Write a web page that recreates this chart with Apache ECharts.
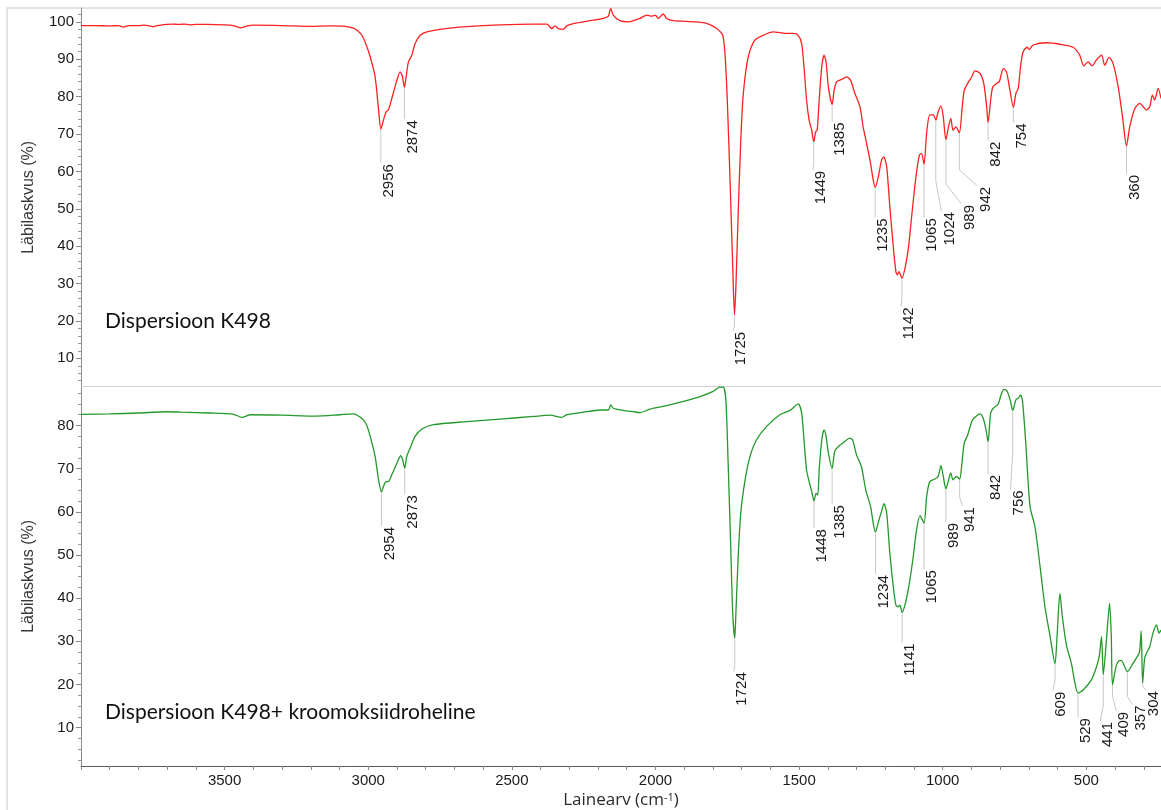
<!DOCTYPE html>
<html>
<head>
<meta charset="utf-8">
<title>FTIR: Dispersioon K498</title>
<script src="https://cdn.jsdelivr.net/npm/echarts@6/dist/echarts.min.js"></script>
<style>
  html, body { margin: 0; padding: 0; background: #ffffff; }
  #chart { width: 1161px; height: 810px; }
</style>
</head>
<body>
<div id="chart"></div>
<script>
// Transmittance spectra: [wavenumber (cm-1), transmittance (%)]
const spectrumK498 = [
  [4000, 99.0], [3950, 99.0], [3900, 98.9], [3870, 99.0], [3852, 98.6], [3835, 99.0],
  [3800, 99.0], [3780, 99.1], [3760, 98.9], [3748, 98.7], [3735, 99.0], [3700, 99.3],
  [3680, 99.4], [3660, 99.3], [3640, 99.4], [3620, 99.2], [3600, 99.3], [3560, 99.3],
  [3500, 99.2], [3470, 99.0], [3442, 98.4], [3420, 98.9], [3400, 99.1], [3300, 99.0],
  [3200, 98.8], [3130, 98.9], [3080, 98.8], [3051, 98.3], [3035, 97.5], [3022, 96.4],
  [3008, 94.0], [2993, 90.6], [2976, 85.3], [2964, 76.4], [2956, 71.3], [2947, 73.7],
  [2938, 75.9], [2930, 76.4], [2918, 79.5], [2900, 84.4], [2889, 86.6], [2882, 85.7],
  [2874, 82.5], [2868, 85.3], [2860, 89.3], [2848, 91.1], [2837, 94.2], [2819, 96.4],
  [2796, 97.3], [2750, 98.0], [2657, 98.7], [2541, 99.2], [2425, 99.4], [2378, 99.4],
  [2361, 98.2], [2350, 98.9], [2338, 98.2], [2321, 98.0], [2309, 98.9], [2274, 99.7],
  [2228, 100.3], [2181, 100.9], [2164, 101.5], [2156, 103.6], [2147, 101.8], [2124, 100.3],
  [2094, 100.0], [2077, 100.3], [2054, 100.9], [2030, 101.8], [2013, 101.5], [2001, 101.8],
  [1990, 100.9], [1973, 102.1], [1961, 100.9], [1938, 100.3], [1868, 100.0], [1822, 99.6],
  [1787, 98.2], [1766, 96.4], [1758, 91.5], [1750, 79.1], [1740, 56.8], [1731, 34.5],
  [1725, 21.6], [1720, 29.1], [1712, 48.8], [1703, 68.4], [1694, 80.9], [1677, 90.6],
  [1654, 95.1], [1625, 96.4], [1590, 97.3], [1567, 97.1], [1543, 96.9], [1520, 96.9],
  [1503, 96.4], [1491, 94.2], [1483, 88.0], [1474, 79.1], [1465, 73.7], [1456, 71.0],
  [1449, 67.9], [1442, 70.6], [1437, 71.0], [1430, 79.1], [1421, 88.0], [1413, 91.1],
  [1406, 89.3], [1398, 82.6], [1385, 77.9], [1378, 81.7], [1369, 84.0], [1352, 84.6],
  [1335, 85.3], [1321, 84.4], [1306, 80.9], [1288, 77.3], [1277, 71.9], [1265, 67.5],
  [1251, 62.1], [1242, 57.7], [1235, 55.7], [1224, 58.6], [1213, 63.0], [1205, 63.9],
  [1195, 61.2], [1184, 50.5], [1172, 39.8], [1163, 33.2], [1158, 32.3], [1152, 33.2],
  [1142, 31.4], [1130, 34.5], [1119, 39.8], [1107, 48.8], [1093, 58.6], [1081, 64.4],
  [1074, 64.8], [1065, 61.9], [1056, 70.2], [1045, 75.1], [1033, 75.1], [1024, 73.7],
  [1016, 75.9], [1006, 77.5], [998, 74.6], [989, 68.4], [981, 71.5], [972, 74.2],
  [964, 71.0], [954, 71.9], [942, 70.3], [933, 76.4], [925, 81.7], [913, 83.5],
  [899, 85.3], [888, 86.9], [870, 86.2], [857, 83.5], [847, 77.3], [842, 73.0],
  [833, 79.1], [826, 82.5], [813, 83.5], [803, 84.0], [789, 87.5], [778, 86.6],
  [766, 81.7], [754, 77.1], [745, 80.9], [737, 82.2], [729, 88.0], [720, 92.0],
  [706, 93.2], [699, 92.6], [685, 93.8], [639, 94.4], [592, 94.0], [546, 93.2],
  [523, 91.1], [509, 88.2], [494, 89.3], [480, 88.2], [465, 89.8], [447, 91.1],
  [436, 88.4], [421, 90.5], [407, 88.9], [389, 82.6], [374, 74.6], [360, 66.8],
  [349, 71.9], [331, 76.8], [314, 78.2], [302, 77.3], [291, 76.4], [279, 77.3],
  [270, 80.4], [262, 79.1], [250, 82.2], [240, 79.5]
];

const spectrumK498Oxide = [
  [4000, 82.6], [3900, 82.7], [3800, 82.9], [3700, 83.2], [3650, 83.1], [3550, 82.9],
  [3469, 82.6], [3440, 81.9], [3410, 82.5], [3300, 82.4], [3180, 82.2], [3100, 82.5],
  [3051, 82.7], [3034, 82.2], [3017, 81.3], [3005, 80.0], [2993, 77.5], [2976, 72.8],
  [2964, 67.4], [2954, 64.6], [2947, 65.9], [2938, 67.0], [2930, 67.0], [2918, 68.6],
  [2900, 71.3], [2887, 73.0], [2880, 72.0], [2873, 70.1], [2866, 72.8], [2854, 74.8],
  [2837, 77.5], [2813, 79.2], [2773, 80.2], [2657, 80.9], [2541, 81.5], [2425, 82.1],
  [2367, 82.4], [2326, 81.9], [2309, 82.5], [2251, 83.1], [2193, 83.6], [2164, 83.6],
  [2156, 84.8], [2147, 84.0], [2112, 83.5], [2077, 83.2], [2054, 83.0], [2019, 83.8],
  [1978, 84.4], [1961, 84.6], [1903, 85.6], [1845, 86.7], [1799, 87.9], [1776, 88.9],
  [1764, 88.9], [1755, 86.0], [1747, 71.3], [1738, 52.0], [1731, 36.5], [1724, 30.7],
  [1720, 36.5], [1712, 49.6], [1703, 59.7], [1688, 67.4], [1671, 72.8], [1648, 76.7],
  [1613, 79.8], [1567, 82.5], [1532, 83.5], [1503, 85.0], [1491, 82.9], [1483, 76.7],
  [1474, 69.7], [1465, 67.0], [1456, 64.7], [1448, 62.5], [1441, 64.3], [1435, 63.9],
  [1430, 69.7], [1421, 76.7], [1413, 79.0], [1406, 77.5], [1398, 73.6], [1385, 70.1],
  [1376, 74.0], [1364, 75.1], [1341, 76.3], [1325, 77.1], [1314, 76.7], [1300, 73.2],
  [1283, 70.5], [1268, 65.1], [1251, 61.2], [1242, 57.4], [1234, 55.3], [1225, 57.4],
  [1213, 60.1], [1204, 61.9], [1195, 59.7], [1184, 50.4], [1172, 42.7], [1163, 38.4],
  [1155, 38.0], [1149, 38.4], [1141, 36.7], [1130, 38.8], [1119, 42.3], [1104, 48.9],
  [1091, 55.8], [1079, 59.1], [1065, 57.4], [1056, 63.5], [1045, 67.0], [1027, 67.6],
  [1016, 68.2], [1006, 70.7], [998, 68.2], [989, 65.3], [981, 67.0], [972, 69.0],
  [964, 67.4], [952, 68.2], [941, 67.6], [933, 71.3], [925, 75.9], [913, 77.8],
  [896, 81.3], [870, 82.7], [857, 81.3], [847, 78.2], [842, 76.2], [833, 82.9],
  [824, 84.0], [807, 85.0], [795, 87.5], [786, 88.4], [775, 87.9], [764, 85.6],
  [756, 83.5], [745, 86.0], [737, 86.3], [729, 87.1], [722, 85.6], [710, 75.1],
  [696, 61.2], [679, 56.6], [661, 47.3], [644, 38.0], [626, 31.1], [609, 24.8],
  [602, 31.1], [592, 41.1], [584, 36.0], [569, 29.0], [552, 24.9], [540, 20.5],
  [529, 18.0], [511, 18.7], [482, 21.1], [465, 24.0], [455, 26.5], [447, 31.1],
  [441, 22.2], [430, 30.3], [419, 38.8], [413, 31.1], [409, 19.9], [396, 24.3],
  [385, 25.5], [378, 25.5], [357, 23.0], [338, 24.8], [326, 26.1], [315, 27.5],
  [309, 32.4], [304, 20.3], [297, 26.1], [291, 27.2], [279, 28.8], [268, 31.9],
  [256, 33.8], [247, 31.9], [240, 32.6]
];

// Annotated band positions (cm-1)
const peaksK498 = [2956, 2874, 1725, 1449, 1385, 1235, 1142, 1065, 1024, 989, 942, 842, 754, 360];
const peaksK498Oxide = [2954, 2873, 1724, 1448, 1385, 1234, 1141, 1065, 989, 941, 842, 756,
                        609, 529, 441, 409, 357, 304];

// Axis tick labels
const xTickLabels = [500, 1000, 1500, 2000, 2500, 3000, 3500];
const yTickLabelsTop = [10, 20, 30, 40, 50, 60, 70, 80, 90, 100];
const yTickLabelsBottom = [10, 20, 30, 40, 50, 60, 70, 80];

// Panel captions
const captionTop = 'Dispersioon K498';
const captionBottom = 'Dispersioon K498+ kroomoksiidroheline';

// Leader line geometry for band labels (px): [vertical drop, end dx, end dy]
const leaderTop = [
  [33, 0, 33], [31, 0, 31], [10, -1.5, 15], [20, -0.7, 27], [16, 0, 16], [29, 0, 29],
  [20, -1, 27], [52, 0, 52], [60, 5.7, 90], [43, 15.7, 63], [36, 18, 52], [17, 0, 17],
  [14, 0, 14], [27, 0, 27]
];
const leaderBottom = [
  [33, 0, 33], [25, 0, 25], [25, -1, 32], [26, 0, 26], [35, 0, 35], [41, 0, 41],
  [29, 0, 29], [45, 0, 45], [32, 0, 32], [17, 2.7, 26], [31, 0, 31], [40, -2.3, 78],
  [15, -2, 26], [23, 0, 23], [30, -3, 45], [10, 3.7, 25], [24, 5, 32], [2, 3.4, 6]
];

function steps(from, to, step, skipEvery) {
  const out = [];
  for (let v = from; v <= to + 1e-9; v += step) {
    const r = Math.round(v * 10) / 10;
    if (skipEvery && Math.abs(r / skipEvery - Math.round(r / skipEvery)) < 1e-9) continue;
    out.push(r);
  }
  return out;
}
const xTicks = steps(300, 4000, 100);
const yMinorTop = steps(4, 102, 2, 10);
const yMinorBottom = steps(2.5, 87.5, 2.5, 10);

function valueAt(spectrum, wn) {
  const hit = spectrum.find(p => p[0] === wn);
  return hit ? hit[1] : null;
}

const NUM_FONT = '"Liberation Sans", Arial, Helvetica, sans-serif';
const plainNumber = v => String(v);

function bandLabelRenderer(layout) {
  return function (params, api) {
    const p = api.coord([api.value(0), api.value(1)]);
    const g = layout[params.dataIndex];
    const x0 = p[0], y0 = p[1] + 1;
    const pts = [[x0, y0], [x0, y0 + g[0]], [x0 + g[1], y0 + g[2]]];
    return {
      type: 'group',
      children: [
        { type: 'polyline', shape: { points: pts },
          style: { stroke: '#c8c8c8', lineWidth: 1, fill: null } },
        { type: 'text', x: x0 + g[1] + 0.5, y: y0 + g[2] + 1, rotation: Math.PI / 2,
          style: { text: String(api.value(0)), fill: '#1a1a1a',
                   font: '15px ' + NUM_FONT, align: 'right', verticalAlign: 'top' } }
      ]
    };
  };
}

function yAxisPair(grid, min, max, labels, minor) {
  return [
    {
      gridIndex: grid, type: 'value', position: 'left', min: min, max: max,
      axisLine: { show: true, onZero: false, lineStyle: { color: '#8a8a8a', width: 1 } },
      axisTick: { show: true, customValues: labels, length: 5, lineStyle: { color: '#8a8a8a' } },
      axisLabel: { customValues: labels, formatter: plainNumber, margin: 7, color: '#1a1a1a',
                   fontSize: 15, fontFamily: NUM_FONT },
      splitLine: { show: false },
      name: 'Läbilaskvus (%)', nameLocation: 'middle', nameGap: 44,
      nameTextStyle: { color: '#3a3a3a', fontSize: 16, fontFamily: NUM_FONT }
    },
    {
      gridIndex: grid, type: 'value', position: 'left', min: min, max: max,
      axisLine: { show: false },
      axisTick: { show: true, customValues: minor, length: 3, lineStyle: { color: '#9a9a9a' } },
      axisLabel: { show: false },
      splitLine: { show: false }
    }
  ];
}

const chart = echarts.init(document.getElementById('chart'), null, { renderer: 'canvas' });

chart.setOption({
  animation: false,
  backgroundColor: '#ffffff',
  grid: [
    { left: 81, right: 0, top: 8, height: 378.7 },
    { left: 81, right: 0, top: 386.7, height: 379.3 }
  ],
  xAxis: [
    {
      gridIndex: 0, type: 'value', min: 240, max: 4000, inverse: true,
      axisLine: { show: true, onZero: false, lineStyle: { color: '#d0d0d0', width: 1 } },
      axisTick: { show: false }, axisLabel: { show: false }, splitLine: { show: false }
    },
    {
      gridIndex: 1, type: 'value', min: 240, max: 4000, inverse: true,
      axisLine: { show: true, onZero: false, lineStyle: { color: '#5a5a5a', width: 1 } },
      axisTick: { show: true, customValues: xTicks, length: 4, lineStyle: { color: '#8a8a8a' } },
      axisLabel: { customValues: xTickLabels, formatter: plainNumber, margin: 7, color: '#1a1a1a',
                   fontSize: 15, fontFamily: NUM_FONT },
      splitLine: { show: false },
      name: 'Lainearv (cm{sup|-1})', nameLocation: 'middle', nameGap: 26,
      nameTextStyle: {
        color: '#2a2a2a', fontSize: 17, fontFamily: '"Open Sans", sans-serif',
        rich: { sup: { fontSize: 11, fontFamily: '"Open Sans", sans-serif', color: '#2a2a2a', verticalAlign: 'top' } }
      }
    }
  ],
  yAxis: [].concat(
    yAxisPair(0, 2.4, 103.7, yTickLabelsTop, yMinorTop),
    yAxisPair(1, 1.1, 89.0, yTickLabelsBottom, yMinorBottom)
  ),
  graphic: [
    { type: 'rect', z: -10, silent: true,
      shape: { x: 7, y: 8, width: 1400, height: 1000 },
      style: { fill: 'none', stroke: '#dcdcdc', lineWidth: 1.5 } },
    { type: 'text', x: 105, y: 321, silent: true,
      style: { text: captionTop, font: '21px Lato, "Noto Sans", sans-serif', fill: '#111111', verticalAlign: 'middle' } },
    { type: 'text', x: 105, y: 712, silent: true,
      style: { text: captionBottom, font: '21px Lato, "Noto Sans", sans-serif', fill: '#111111', verticalAlign: 'middle' } }
  ],
  series: [
    {
      name: captionTop, type: 'line', xAxisIndex: 0, yAxisIndex: 0,
      data: spectrumK498, showSymbol: false, smooth: 0.25,
      lineStyle: { color: '#ff2020', width: 1.3 }, z: 3
    },
    {
      name: captionBottom, type: 'line', xAxisIndex: 1, yAxisIndex: 2,
      data: spectrumK498Oxide, showSymbol: false, smooth: 0.25,
      lineStyle: { color: '#22992a', width: 1.3 }, z: 3
    },
    {
      type: 'custom', xAxisIndex: 0, yAxisIndex: 0, z: 2, silent: true,
      encode: { x: 0, y: 1 },
      data: peaksK498.map(w => [w, valueAt(spectrumK498, w)]),
      renderItem: bandLabelRenderer(leaderTop)
    },
    {
      type: 'custom', xAxisIndex: 1, yAxisIndex: 2, z: 2, silent: true,
      encode: { x: 0, y: 1 },
      data: peaksK498Oxide.map(w => [w, valueAt(spectrumK498Oxide, w)]),
      renderItem: bandLabelRenderer(leaderBottom)
    }
  ]
});
</script>
</body>
</html>
